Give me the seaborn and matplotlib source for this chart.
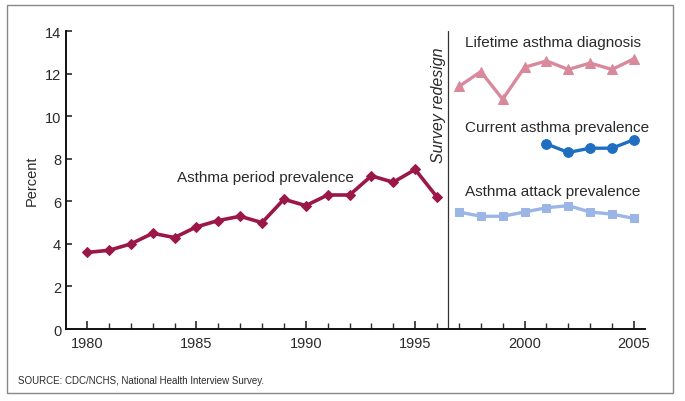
import matplotlib
matplotlib.use("Agg")
import matplotlib.pyplot as plt
import seaborn as sns
import pandas as pd
from matplotlib.patches import Rectangle
from matplotlib.ticker import MultipleLocator

sns.set_theme(style="white")
plt.rcParams['font.family'] = ['Liberation Sans', 'DejaVu Sans']

period_years = list(range(1980, 1997))
period_vals = [3.6, 3.7, 4.0, 4.5, 4.3, 4.8, 5.1, 5.3, 5.0, 6.1, 5.8, 6.3, 6.3, 7.2, 6.9, 7.5, 6.2]

new_years = list(range(1997, 2006))
lifetime_vals = [11.4, 12.1, 10.8, 12.3, 12.6, 12.2, 12.5, 12.2, 12.7]
attack_vals = [5.5, 5.3, 5.3, 5.5, 5.7, 5.8, 5.5, 5.4, 5.2]

current_years = list(range(2001, 2006))
current_vals = [8.7, 8.3, 8.5, 8.5, 8.9]

yticks = [0, 2, 4, 6, 8, 10, 12, 14]
xticks = [1980, 1985, 1990, 1995, 2000, 2005]

c_period = "#9b1747"
c_life = "#d9899c"
c_current = "#1f6ec2"
c_attack = "#9bb6e6"
c_text = "#2a2a2a"

fig = plt.figure(figsize=(6.85, 4.02), dpi=100)
fig.patches.append(Rectangle((0.010, 0.020), 0.972, 0.965, transform=fig.transFigure,
                             fill=False, edgecolor="#888888", linewidth=1.0))
ax = fig.add_axes([0.0964, 0.179, 0.845, 0.741])

df_p = pd.DataFrame({"year": period_years, "val": period_vals})
df_l = pd.DataFrame({"year": new_years, "val": lifetime_vals})
df_a = pd.DataFrame({"year": new_years, "val": attack_vals})
df_c = pd.DataFrame({"year": current_years, "val": current_vals})

sns.lineplot(data=df_p, x="year", y="val", ax=ax, color=c_period, linewidth=2.6,
             marker="D", markersize=5, markeredgecolor=c_period, clip_on=False)
sns.lineplot(data=df_l, x="year", y="val", ax=ax, color=c_life, linewidth=2.4,
             marker="^", markersize=7, markeredgecolor=c_life, clip_on=False)
sns.lineplot(data=df_c, x="year", y="val", ax=ax, color=c_current, linewidth=2.4,
             marker="o", markersize=7, markeredgecolor=c_current, clip_on=False)
sns.lineplot(data=df_a, x="year", y="val", ax=ax, color=c_attack, linewidth=2.4,
             marker="s", markersize=5.5, markeredgecolor=c_attack, clip_on=False)

ax.axvline(1996.5, color="#333333", linewidth=0.9)
ax.text(1996.05, 10.55, "Survey redesign", rotation=90, style="italic", fontsize=11.5,
        ha="center", va="center", color=c_text)

ax.text(1988.15, 7.15, "Asthma period prevalence", fontsize=11, ha="center", va="center", color=c_text)
ax.text(2001.3, 13.5, "Lifetime asthma diagnosis", fontsize=11, ha="center", va="center", color=c_text)
ax.text(2001.5, 9.5, "Current asthma prevalence", fontsize=11, ha="center", va="center", color=c_text)
ax.text(2001.3, 6.5, "Asthma attack prevalence", fontsize=11, ha="center", va="center", color=c_text)

ax.set_xlim(1979.04, 2005.5)
ax.set_ylim(0, 14)
ax.set_xticks(xticks)
ax.set_xticklabels([str(x) for x in xticks])
ax.xaxis.set_minor_locator(MultipleLocator(1))
ax.set_yticks(yticks)
ax.set_yticklabels([str(y) for y in yticks])
ax.tick_params(axis="both", which="major", direction="in", length=6, width=1.2,
               labelsize=10.5, colors=c_text, bottom=True, left=True)
ax.tick_params(axis="x", which="minor", direction="in", length=4, width=1.0, bottom=True, colors=c_text)
ax.tick_params(axis="y", which="major", length=4)
ax.tick_params(axis="x", which="major", pad=5)
for s in ["top", "right"]:
    ax.spines[s].set_visible(False)
for s in ["left", "bottom"]:
    ax.spines[s].set_color("#111111")
    ax.spines[s].set_linewidth(1.4)
ax.set_xlabel("")
ax.set_ylabel("Percent", fontsize=10.5, color=c_text, labelpad=4)
ax.grid(False)

fig.text(0.027, 0.052, "SOURCE: CDC/NCHS, National Health Interview Survey.", fontsize=7, color=c_text,
         ha="left", va="center")

fig.savefig("out.png", dpi=100, facecolor="white")
